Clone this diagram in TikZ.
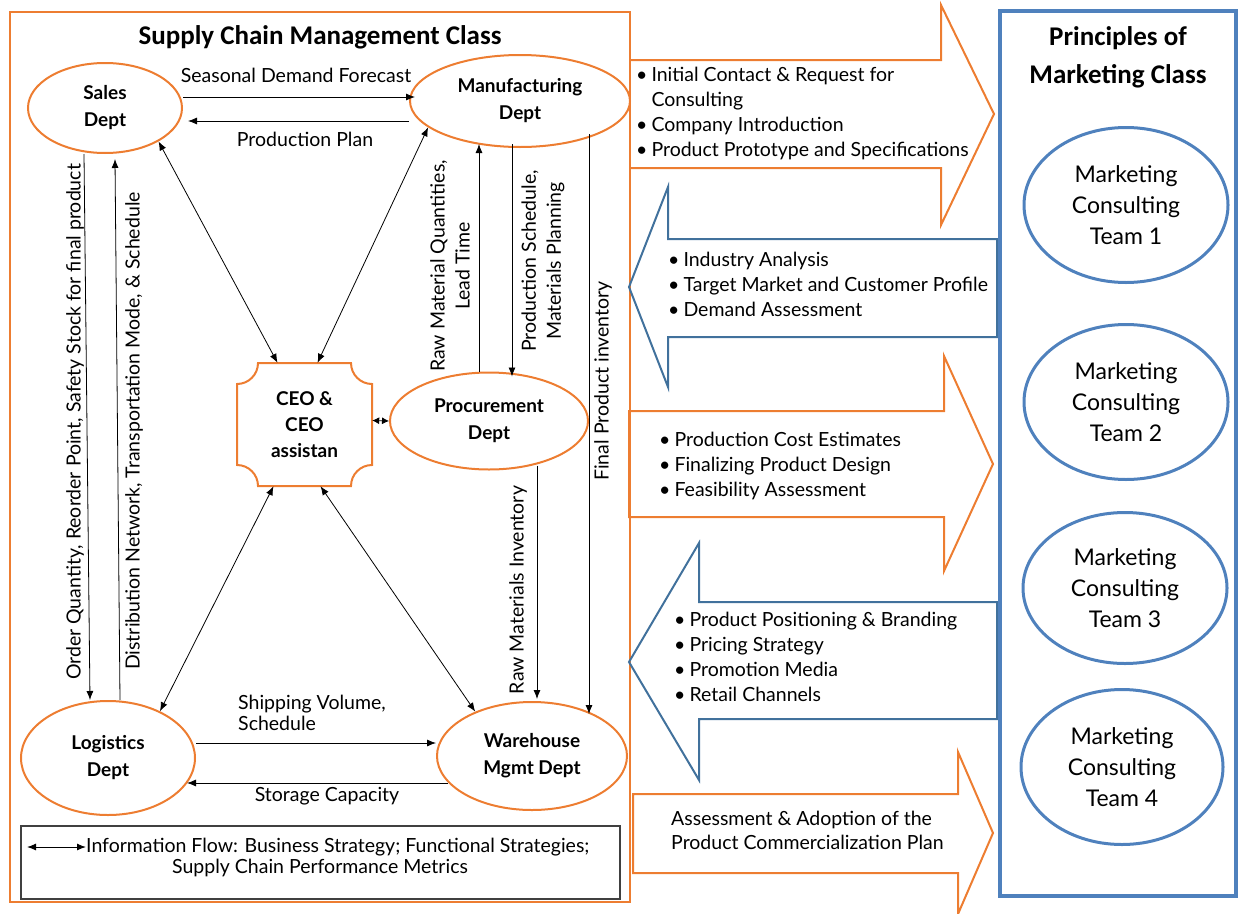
\documentclass[tikz,border=0pt]{standalone}
\usepackage{fontspec}
\setmainfont{Lato}
\newfontfamily\headfont{Carlito}
\usetikzlibrary{arrows.meta,shapes.geometric}
\definecolor{sco}{HTML}{ED7D31}
\definecolor{mkb}{HTML}{4F81BD}
\definecolor{mka}{HTML}{41719C}
\definecolor{legc}{HTML}{404040}
\newcommand{\bodyf}{\fontsize{19.5}{25}\selectfont}
\newcommand{\deptf}{\fontsize{19}{27}\selectfont\bfseries}
\newcommand{\teamf}{\fontsize{23}{31}\selectfont}
\newcommand{\headf}{\headfont\bfseries\fontsize{27}{38}\selectfont}
\newcommand{\blt}{\textbullet}
\begin{document}
\begin{tikzpicture}[x=1pt,y=-1pt,
  dept/.style={ellipse, draw=sco, line width=2pt, inner sep=0pt, align=center, font=\deptf},
  flow/.style={draw=black, line width=0.8pt, -{Latex[length=9pt,width=7pt]}},
  info/.style={draw=black, line width=0.8pt, {Latex[length=9pt,width=7pt]}-{Latex[length=9pt,width=7pt]}},
  lbl/.style={font=\bodyf, inner sep=0pt, align=center},
  head/.style={font=\headf, inner sep=0pt, align=center},
  team/.style={ellipse, draw=mkb, line width=3pt, minimum width=204pt, minimum height=155pt, inner sep=0pt, align=center, font=\teamf},
  orarrow/.style={draw=sco, line width=2pt, line join=miter},
  blarrow/.style={draw=mka, line width=2pt, line join=miter}]
\useasboundingbox (0,0) rectangle (1239,913);

% ---------- Supply chain management class ----------
\draw[sco, line width=2.5pt] (10,12) rectangle (630,902);
\node[head] (scmtitle) at (320,37) {Supply Chain Management Class};

\node[dept, minimum width=154pt, minimum height=90pt] (sales) at (105,108) {Sales\\Dept};
\node[dept, minimum width=220pt, minimum height=92pt] (manu) at (520,101) {Manufacturing\\Dept};
\node[dept, minimum width=198pt, minimum height=97pt] (proc) at (489,421) {Procurement\\Dept};
\node[dept, minimum width=174pt, minimum height=114pt] (logi) at (108,758) {Logistics\\Dept};
\node[dept, minimum width=190pt, minimum height=108pt] (ware) at (532,756) {Warehouse\\Mgmt Dept};

% CEO office: plaque outline with the text node on top
\draw[sco, line width=2pt] (258,363) -- (351,363) arc[start angle=180, end angle=270, radius=21pt]
  -- (372,465) arc[start angle=90, end angle=180, radius=21pt]
  -- (258,486) arc[start angle=0, end angle=90, radius=21pt]
  -- (237,384) arc[start angle=270, end angle=360, radius=21pt] -- cycle;
\node[rectangle, minimum width=135pt, minimum height=123pt, inner sep=0pt, align=center, font=\fontsize{19}{26}\selectfont\bfseries] (ceo) at (304.5,424.5) {CEO \&\\CEO\\assistan};

% department flows
\draw[flow] ([yshift=11]sales.east) -- ([xshift=6,yshift=4]manu.west);
\node[lbl] (lsdf) at (296,75) {Seasonal Demand Forecast};
\draw[flow] ([yshift=-20]manu.west) -- ([xshift=5,yshift=-13]sales.east);
\node[lbl] (lpp) at (305,139) {Production Plan};

\draw[flow] ([xshift=-21]sales.south) -- ([xshift=-18]logi.north);
\node[lbl, rotate=90] (loq) at (75,422) {Order Quantity, Reorder Point, Safety Stock for final product};
\draw[flow] ([xshift=12]logi.north) -- ([xshift=10,yshift=-5]sales.south);
\node[lbl, rotate=90] (ldn) at (134,431) {Distribution Network, Transportation Mode, \& Schedule};

\draw[info] (sales.-32) -- ([xshift=-27]ceo.north);
\draw[info] (manu.196) -- ([xshift=13]ceo.north);
\draw[info] ([xshift=-31]ceo.south) -- (logi.42);
\draw[info] ([xshift=16]ceo.south) -- (ware.142);
\draw[draw=black, line width=0.8pt, {Latex[length=7pt,width=7pt]}-{Latex[length=7pt,width=7pt]}] ([yshift=4]ceo.east) -- (proc.west);

\draw[flow] ([xshift=-10]proc.north) -- ([xshift=-41,yshift=4]manu.south);
\node[lbl, rotate=90] (lrmq) at (450,266) {Raw Material Quantities,\\Lead Time};
\draw[flow] ([xshift=-8,yshift=4]manu.south) -- ([xshift=23,yshift=-5]proc.north);
\node[lbl, rotate=90] (lps) at (543,261) {Production Schedule,\\Materials Planning};
\draw[flow] ([xshift=69,yshift=14]manu.south) -- ([xshift=57,yshift=-13]ware.north);
\node[lbl, rotate=90] (lfpi) at (603,381) {Final Product inventory};
\draw[flow] ([xshift=48,yshift=5]proc.south) -- ([xshift=5,yshift=2]ware.north);
\node[lbl, rotate=90] (lrmi) at (518,590) {Raw Materials Inventory};

\draw[flow] ([yshift=15]logi.east) -- ([yshift=13]ware.west);
\node[lbl, align=left, anchor=west, font=\fontsize{19.5}{21}\selectfont] (lsv) at (238,713) {Shipping Volume,\\Schedule};
\draw[flow] ([xshift=12,yshift=-27]ware.west) -- ([xshift=-9,yshift=-25]logi.east);
\node[lbl] (lsc) at (327,796) {Storage Capacity};

% legend
\draw[legc, line width=1.5pt] (21,826) rectangle (620,899);
\coordinate (legA) at (27,847);
\node[lbl, anchor=west] (legB) at (86,847) {Information Flow: Business Strategy; Functional Strategies;};
\node[lbl] (legC) at (320,868) {Supply Chain Performance Metrics};
\draw[info, line width=1pt] (legA) -- (legB.west);

% ---------- exchanges between the classes ----------
\draw[orarrow] (631,60) -- (941,60) -- (941,5) -- (994,114) -- (941,225) -- (941,168) -- (631,168);
\node[lbl, anchor=west, align=left] (t1) at (636,113.5) {\begin{tabular}{@{}l@{\hspace{4pt}}l@{}}\blt & Initial Contact \& Request for\\ & Consulting\\ \blt & Company Introduction\\ \blt & Product Prototype and Specifications\end{tabular}};

\draw[blarrow] (997,239) -- (668,239) -- (668,187) -- (629,287) -- (668,387) -- (668,337) -- (997,337) -- cycle;
\node[lbl, anchor=west, align=left] (t2) at (668,286) {\begin{tabular}{@{}l@{\hspace{4pt}}l@{}}\blt & Industry Analysis\\ \blt & Target Market and Customer Profile\\ \blt & Demand Assessment\end{tabular}};

\draw[orarrow] (629,411) -- (944,411) -- (944,356) -- (993,464) -- (944,571) -- (944,517) -- (629,517) -- cycle;
\node[lbl, anchor=west, align=left] (t3) at (659,466) {\begin{tabular}{@{}l@{\hspace{4pt}}l@{}}\blt & Production Cost Estimates\\ \blt & Finalizing Product Design\\ \blt & Feasibility Assessment\end{tabular}};

\draw[blarrow] (997,602) -- (699,602) -- (699,543) -- (629,662) -- (699,780) -- (699,719) -- (997,719) -- cycle;
\node[lbl, anchor=west, align=left] (t4) at (674,658.5) {\begin{tabular}{@{}l@{\hspace{4pt}}l@{}}\blt & Product Positioning \& Branding\\ \blt & Pricing Strategy\\ \blt & Promotion Media\\ \blt & Retail Channels\end{tabular}};

\draw[orarrow] (633,794) -- (958,794) -- (958,752) -- (993,833) -- (958,914) -- (958,873) -- (633,873) -- cycle;
\node[lbl, anchor=west, align=left, font=\fontsize{19.5}{24}\selectfont] (t5) at (671,830) {Assessment \& Adoption of the\\Product Commercialization Plan};

% ---------- Principles of marketing class ----------
\draw[mkb, line width=3.5pt] (1000,11) rectangle (1236,896);
\node[head] (mktitle) at (1118,57) {Principles of\\Marketing Class};
\node[team] (team1) at (1126,205) {Marketing\\Consulting\\Team 1};
\node[team] (team2) at (1126,402) {Marketing\\Consulting\\Team 2};
\node[team, minimum height=151pt] (team3) at (1125,588) {Marketing\\Consulting\\Team 3};
\node[team, minimum width=202pt] (team4) at (1122,767) {Marketing\\Consulting\\Team 4};
\end{tikzpicture}
\end{document}
